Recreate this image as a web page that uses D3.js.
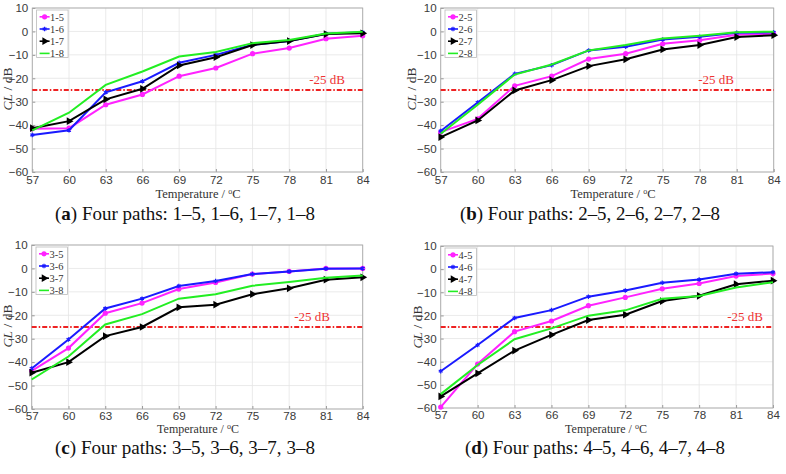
<!DOCTYPE html>
<html><head><meta charset="utf-8">
<script src="https://cdn.jsdelivr.net/npm/d3@7"></script>
<style>body{margin:0;background:#fff}svg{display:block}</style>
</head><body>
<svg id="c" width="786" height="474"></svg>
<script>
const temperatures = [57, 60, 63, 66, 69, 72, 75, 78, 81, 84];
const yTicks = [10, 0, -10, -20, -30, -40, -50, -60];
const threshold = -25;
const thresholdLabel = "-25 dB";

const a15 = [-41.5, -41.3, -31.3, -26.9, -19.1, -15.6, -9.5, -7.1, -3.1, -1.8];
const a16 = [-44.2, -42.2, -26.0, -21.3, -13.4, -10.0, -5.7, -4.1, -1.0, -0.4];
const a17 = [-41.3, -38.3, -29.0, -24.5, -14.5, -11.0, -5.8, -4.1, -1.1, -0.8];
const a18 = [-42.2, -34.7, -22.8, -17.1, -10.7, -8.8, -5.0, -3.7, -0.9, -0.1];

const b25 = [-43.0, -37.3, -23.2, -19.1, -11.8, -9.5, -5.3, -3.8, -1.4, -1.0];
const b26 = [-42.5, -30.3, -18.1, -14.4, -8.1, -6.5, -3.4, -2.3, -0.6, -0.4];
const b27 = [-45.1, -38.0, -25.2, -20.8, -14.8, -11.9, -7.7, -5.8, -2.4, -1.6];
const b28 = [-43.7, -31.3, -18.4, -14.1, -8.1, -5.8, -3.0, -1.8, -0.3, -0.1];

const c35 = [-43.7, -34.0, -19.1, -14.8, -8.8, -6.0, -2.4, -1.3, 0.0, 0.0];
const c36 = [-42.7, -30.3, -17.1, -12.9, -7.5, -5.4, -2.4, -1.3, -0.1, 0.0];
const c37 = [-44.5, -40.0, -28.9, -25.0, -16.6, -15.5, -11.0, -8.5, -4.8, -3.8];
const c38 = [-47.4, -37.6, -23.9, -19.5, -12.9, -11.0, -7.4, -5.8, -4.0, -3.0];

const d45 = [-59.6, -41.0, -27.0, -22.4, -15.8, -12.2, -8.5, -6.2, -3.0, -1.9];
const d46 = [-44.1, -32.8, -21.1, -17.7, -11.9, -9.2, -5.9, -4.5, -2.0, -1.3];
const d47 = [-55.0, -45.0, -35.2, -28.4, -22.0, -19.7, -13.8, -11.5, -6.5, -5.0];
const d48 = [-54.0, -41.4, -30.3, -25.6, -20.1, -17.8, -12.8, -11.6, -7.9, -5.7];

const seriesNamesA = ["1-5", "1-6", "1-7", "1-8"];
const seriesNamesB = ["2-5", "2-6", "2-7", "2-8"];
const seriesNamesC = ["3-5", "3-6", "3-7", "3-8"];
const seriesNamesD = ["4-5", "4-6", "4-7", "4-8"];

const captionLetters = ["a", "b", "c", "d"];
const captionTexts = [" Four paths: 1–5, 1–6, 1–7, 1–8", " Four paths: 2–5, 2–6, 2–7, 2–8",
                      " Four paths: 3–5, 3–6, 3–7, 3–8", " Four paths: 4–5, 4–6, 4–7, 4–8"];

const colors = ["#ff22ff", "#1a1aff", "#000000", "#22ee22"];
const markers = ["circle", "dot", "tri", "none"];

const panels = [
  {names: seriesNamesA, data: [a15, a16, a17, a18], box: [32.3, 8, 362.7, 172], ylab: [8, 89], xlab: [198, 198], xfs: 12.5, tp: 3.5, thx: 327, cap: [185, 219.5]},
  {names: seriesNamesB, data: [b25, b26, b27, b28], box: [440.7, 8, 773.7, 172], ylab: [412, 89], xlab: [613, 198], xfs: 12.5, tp: 3.5, thx: 716, cap: [590, 219.5]},
  {names: seriesNamesC, data: [c35, c36, c37, c38], box: [31.7, 245, 362.7, 409], ylab: [8, 326], xlab: [198, 433], xfs: 12, tp: 3, thx: 312, cap: [185, 453.5]},
  {names: seriesNamesD, data: [d45, d46, d47, d48], box: [440.7, 246, 773, 408], ylab: [418, 327], xlab: [606, 433], xfs: 12, tp: 3, thx: 745, cap: [595, 453.5]}
];

const svg = d3.select("#c");

function drawMarker(g, type, x, y, color) {
  if (type === "circle") {
    g.append("circle").attr("cx", x).attr("cy", y).attr("r", 2.6).attr("fill", color);
  } else if (type === "dot") {
    g.append("path").attr("d", d3.symbol(d3.symbolAsterisk, 14)()).attr("transform", `translate(${x},${y})`)
      .attr("stroke", color).attr("stroke-width", 1.2).attr("fill", "none");
  } else if (type === "tri") {
    g.append("path").attr("d", d3.symbol(d3.symbolTriangle, 26)()).attr("transform", `translate(${x},${y}) rotate(90)`)
      .attr("fill", color);
  }
}

panels.forEach((p, pi) => {
  const [x0, y0, x1, y1] = p.box;
  const x = d3.scaleLinear().domain([57, 84]).range([x0, x1]);
  const y = d3.scaleLinear().domain([-60, 10]).range([y1, y0]);
  const g = svg.append("g");

  // grid
  g.append("g").selectAll("line").data(temperatures).join("line")
    .attr("x1", d => x(d)).attr("x2", d => x(d)).attr("y1", y0).attr("y2", y1)
    .attr("stroke", "#e4e4e4").attr("stroke-width", 0.8);
  g.append("g").selectAll("line").data(yTicks).join("line")
    .attr("x1", x0).attr("x2", x1).attr("y1", d => y(d)).attr("y2", d => y(d))
    .attr("stroke", "#e4e4e4").attr("stroke-width", 0.8);

  // axes
  const xAxis = d3.axisBottom(x).tickValues(temperatures).tickSize(-3).tickPadding(p.tp).tickFormat(d3.format("d"));
  const yAxis = d3.axisLeft(y).tickValues(yTicks).tickSize(-3).tickPadding(4).tickFormat(d3.format("d"));
  const gx = g.append("g").attr("transform", `translate(0,${y1})`).call(xAxis);
  const gy = g.append("g").attr("transform", `translate(${x0},0)`).call(yAxis);
  [gx, gy].forEach(a => {
    a.select(".domain").remove();
    a.selectAll("line").attr("stroke", "#999");
    a.selectAll("text").attr("font-family", "Liberation Sans, Arial, sans-serif").attr("font-size", 11.6).attr("fill", "#3a3a3a");
  });
  g.append("rect").attr("x", x0).attr("y", y0).attr("width", x1 - x0).attr("height", y1 - y0)
    .attr("fill", "none").attr("stroke", "#aaa").attr("stroke-width", 0.9);

  // threshold
  g.append("line").attr("x1", x0).attr("x2", x1).attr("y1", y(threshold)).attr("y2", y(threshold))
    .attr("stroke", "#ee2222").attr("stroke-width", 2).attr("stroke-dasharray", "5,2,1.5,2");
  g.append("text").attr("x", p.thx).attr("y", y(-22.6)).attr("text-anchor", "middle")
    .attr("font-family", "Liberation Serif, Times New Roman, serif").attr("font-size", 13).attr("fill", "#e33").text(thresholdLabel);

  // series
  const line = d3.line().x((d, i) => x(temperatures[i])).y(d => y(d));
  p.data.forEach((vals, si) => {
    g.append("path").datum(vals).attr("d", line).attr("fill", "none")
      .attr("stroke", colors[si]).attr("stroke-width", 2);
    vals.forEach((v, i) => drawMarker(g, markers[si], x(temperatures[i]), y(v), colors[si]));
  });

  // legend
  const lx = x0 + 4.3, ly = y0 + 2;
  const lg = g.append("g");
  lg.append("rect").attr("x", lx).attr("y", ly).attr("width", 31.5).attr("height", 47.5)
    .attr("fill", "#fff").attr("stroke", "#bbb").attr("stroke-width", 0.8);
  p.names.forEach((n, si) => {
    const yy = ly + 6.8 + si * 12.2;
    lg.append("line").attr("x1", lx + 3).attr("x2", lx + 13).attr("y1", yy).attr("y2", yy)
      .attr("stroke", colors[si]).attr("stroke-width", 1.6);
    drawMarker(lg, markers[si], lx + 8, yy, colors[si]);
    lg.append("text").attr("x", lx + 13.5).attr("y", yy + 3.7).attr("font-family", "Liberation Serif, Times New Roman, serif")
      .attr("font-size", 10.4).attr("fill", "#333").text(n);
  });

  // axis labels
  const yl = g.append("text").attr("transform", `translate(${p.ylab[0] + 4},${p.ylab[1]}) rotate(-90)`)
    .attr("text-anchor", "middle").attr("font-family", "Liberation Serif, Times New Roman, serif").attr("font-size", 13.5).attr("fill", "#333");
  yl.append("tspan").attr("font-style", "italic").text("CL");
  yl.append("tspan").text(" / dB");
  const xl = g.append("text").attr("x", p.xlab[0]).attr("y", p.xlab[1]).attr("text-anchor", "middle")
    .attr("font-family", "Liberation Serif, Times New Roman, serif").attr("font-size", p.xfs).attr("fill", "#333");
  xl.append("tspan").text("Temperature / ");
  xl.append("tspan").attr("font-size", 8).attr("dy", -4).text("o");
  xl.append("tspan").attr("dy", 4).text("C");

  // caption
  const cap = svg.append("text").attr("x", p.cap[0]).attr("y", p.cap[1]).attr("text-anchor", "middle")
    .attr("font-family", "Liberation Serif, Times New Roman, serif").attr("font-size", 19).attr("fill", "#111")
    .attr("textLength", 260).attr("lengthAdjust", "spacingAndGlyphs");
  cap.append("tspan").text("(");
  cap.append("tspan").attr("font-weight", "bold").text(captionLetters[pi]);
  cap.append("tspan").text(")" + captionTexts[pi]);
});
</script>
</body></html>
